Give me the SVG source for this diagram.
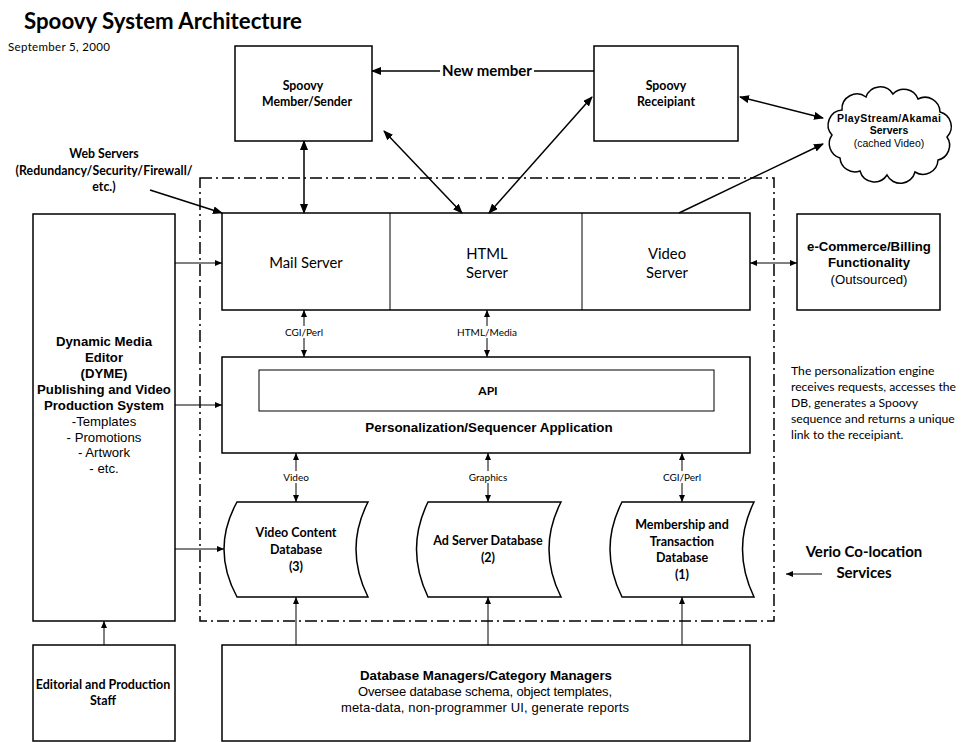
<svg xmlns="http://www.w3.org/2000/svg" width="970" height="742" viewBox="0 0 970 742">
<defs>
<marker id="ah" markerWidth="10" markerHeight="8" refX="9" refY="4" orient="auto-start-reverse" markerUnits="userSpaceOnUse"><path d="M0,0 L10,4 L0,8 Z" fill="#000"/></marker>
<marker id="as" markerWidth="7" markerHeight="6" refX="7" refY="3" orient="auto-start-reverse" markerUnits="userSpaceOnUse"><path d="M0,0 L7,3 L0,6 Z" fill="#000"/></marker>
</defs>
<style>
.box{fill:#fff;stroke:#000;stroke-width:1.5}
.thin{fill:none;stroke:#000;stroke-width:1}
.c{fill:none;stroke:#000;stroke-width:1.5}
.cs{fill:none;stroke:#000;stroke-width:1}
.cal{font-family:Lato,"Open Sans","Liberation Sans",sans-serif;fill:#000}
.ar{font-family:"Liberation Sans",Arial,sans-serif;fill:#000}
.b{font-weight:bold}
text{text-anchor:middle}
</style>
<rect width="970" height="742" fill="#fff"/>
<text class="cal b" x="24" y="29" font-size="22" textLength="278" lengthAdjust="spacingAndGlyphs" style="text-anchor:start">Spoovy System Architecture</text>
<text class="cal" x="8" y="51" font-size="11.5" textLength="102" style="text-anchor:start">September 5, 2000</text>

<rect x="200" y="178" width="574" height="443" fill="none" stroke="#000" stroke-width="1.5" stroke-dasharray="12 4 2 4"/>

<g id="member"><rect class="box" x="235" y="46" width="137" height="95"/>
<text class="cal b" x="303" y="90" font-size="12.3">Spoovy</text><text class="cal b" x="307" y="106" font-size="12.3" textLength="90">Member/Sender</text></g>
<g id="receipiant"><rect class="box" x="594" y="46" width="144" height="95"/>
<text class="cal b" x="666" y="90" font-size="12.3">Spoovy</text><text class="cal b" x="666" y="106" font-size="12.3" textLength="58">Receipiant</text></g>
<g id="cloud"><path class="box" d="M832,135 A15,15 0 0 1 842,110 A15,15 0 0 1 866,97 A15,15 0 0 1 893,94 A15,15 0 0 1 918,99 A15,15 0 0 1 940,112 A15,15 0 0 1 947,137 A15,15 0 0 1 938,160 A15,15 0 0 1 915,172 A15,15 0 0 1 887,175 A15,15 0 0 1 860,171 A15,15 0 0 1 840,158 A15,15 0 0 1 832,135 Z"/>
<text class="ar b" x="889" y="122" font-size="10.5" textLength="104">PlayStream/Akamai</text><text class="ar b" x="889" y="134" font-size="10.5">Servers</text><text class="ar" x="889" y="147" font-size="10.5">(cached Video)</text></g>
<g id="webservers"><text class="cal b" x="104" y="158" font-size="12.3">Web Servers</text><text class="cal b" x="104" y="175" font-size="12.3" textLength="177">(Redundancy/Security/Firewall/</text><text class="cal b" x="104" y="191" font-size="12.3">etc.)</text></g>

<g id="servers"><rect class="box" x="222" y="213" width="528" height="97"/>
<line class="thin" x1="390" y1="213" x2="390" y2="310"/><line class="thin" x1="582" y1="213" x2="582" y2="310"/>
<text class="cal" x="306" y="268" font-size="14.8">Mail Server</text>
<text class="cal" x="487" y="259" font-size="14.8">HTML</text><text class="cal" x="487" y="278" font-size="14.8">Server</text>
<text class="cal" x="667" y="259" font-size="14.8">Video</text><text class="cal" x="667" y="278" font-size="14.8">Server</text></g>

<g id="ecommerce"><rect class="box" x="797" y="214" width="143" height="96"/>
<text class="ar b" x="869" y="251" font-size="13.2">e-Commerce/Billing</text><text class="ar b" x="869" y="267" font-size="13.2">Functionality</text><text class="ar" x="869" y="284" font-size="13.2">(Outsourced)</text></g>

<g id="dyme"><rect class="box" x="33" y="214" width="142" height="407"/>
<text class="ar b" x="104" y="346" font-size="13.2">Dynamic Media</text><text class="ar b" x="104" y="362" font-size="13.2">Editor</text><text class="ar b" x="104" y="378" font-size="13.2">(DYME)</text><text class="ar b" x="104" y="394" font-size="13.2">Publishing and Video</text><text class="ar b" x="104" y="410" font-size="13.2">Production System</text>
<text class="ar" x="104" y="426" font-size="13.2">-Templates</text><text class="ar" x="104" y="442" font-size="13.2">- Promotions</text><text class="ar" x="104" y="457" font-size="13.2">- Artwork</text><text class="ar" x="104" y="473" font-size="13.2">- etc.</text></g>

<g id="personalization"><rect class="box" x="222" y="357" width="528" height="96"/>
<rect x="259" y="370" width="455" height="41" fill="#fff" stroke="#000" stroke-width="1"/>
<text class="cal b" x="488" y="395" font-size="12">API</text>
<text class="ar b" x="489" y="432" font-size="13.4">Personalization/Sequencer Application</text></g>

<g id="videodb"><path class="box" d="M237,502 L368,502 Q344,549 368,597 L237,597 Q211,549 237,502 Z"/>
<text class="cal b" x="296" y="537" font-size="12.5">Video Content</text><text class="cal b" x="296" y="554" font-size="12.5">Database</text><text class="cal b" x="296" y="571" font-size="12.5">(3)</text></g>
<g id="addb"><path class="box" d="M428,502 L561,502 Q537,549 561,597 L428,597 Q405,549 428,502 Z"/>
<text class="cal b" x="488" y="545" font-size="12.5">Ad Server Database</text><text class="cal b" x="488" y="562" font-size="12.5">(2)</text></g>
<g id="memberdb"><path class="box" d="M622,502 L754,502 Q731,549 754,597 L622,597 Q598,549 622,502 Z"/>
<text class="cal b" x="682" y="529" font-size="12.5">Membership and</text><text class="cal b" x="682" y="546" font-size="12.5">Transaction</text><text class="cal b" x="682" y="562" font-size="12.5">Database</text><text class="cal b" x="682" y="579" font-size="12.5">(1)</text></g>

<g id="dbmanagers"><rect class="box" x="222" y="645" width="528" height="96"/>
<text class="ar b" x="486" y="680" font-size="13.3">Database Managers/Category Managers</text>
<text class="ar" x="485" y="696" font-size="13" textLength="254">Oversee database schema, object templates,</text>
<text class="ar" x="485" y="712" font-size="13" textLength="288">meta-data, non-programmer UI, generate reports</text></g>

<g id="editorial"><rect class="box" x="33" y="645" width="142" height="96"/>
<text class="cal b" x="103" y="689" font-size="12.5">Editorial and Production</text><text class="cal b" x="103" y="705" font-size="12.5">Staff</text></g>

<g id="note"><text class="cal" font-size="12.2" style="text-anchor:start"><tspan x="791" y="375">The personalization engine</tspan><tspan x="791" y="391">receives requests, accesses the</tspan><tspan x="791" y="407">DB, generates a Spoovy</tspan><tspan x="791" y="423">sequence and returns a unique</tspan><tspan x="791" y="439">link to the receipiant.</tspan></text></g>

<g id="verio"><text class="cal b" x="864" y="557" font-size="15">Verio Co-location</text><text class="cal b" x="864" y="578" font-size="15">Services</text></g>

<g id="newmember"><text class="cal b" x="487" y="76" font-size="15">New member</text></g>

<g id="connectors">
<line class="c" x1="440" y1="71" x2="372" y2="71" marker-end="url(#ah)"/>
<line class="c" x1="534" y1="71" x2="594" y2="71"/>
<line class="c" x1="304" y1="141" x2="304" y2="213" marker-start="url(#ah)" marker-end="url(#ah)"/>
<line class="c" x1="384" y1="131" x2="462" y2="213" marker-start="url(#ah)" marker-end="url(#ah)"/>
<line class="c" x1="592" y1="97" x2="489" y2="213" marker-start="url(#ah)" marker-end="url(#ah)"/>
<line class="c" x1="740" y1="97" x2="823" y2="118" marker-start="url(#ah)" marker-end="url(#ah)"/>
<line class="c" x1="679" y1="213" x2="823" y2="144" marker-end="url(#ah)"/>
<line class="c" x1="150" y1="190" x2="222" y2="213" marker-end="url(#ah)"/>
<line class="cs" x1="750" y1="263" x2="797" y2="263" marker-start="url(#as)" marker-end="url(#as)"/>
<line class="cs" x1="175" y1="263" x2="222" y2="263" marker-end="url(#as)"/>
<line class="cs" x1="175" y1="405" x2="222" y2="405" marker-end="url(#as)"/>
<line class="cs" x1="175" y1="549" x2="224" y2="549" marker-end="url(#as)"/>
<line class="cs" x1="304" y1="310" x2="304" y2="357" marker-start="url(#as)" marker-end="url(#as)"/>
<line class="cs" x1="487" y1="310" x2="487" y2="357" marker-start="url(#as)" marker-end="url(#as)"/>
<line class="cs" x1="296" y1="453" x2="296" y2="502" marker-start="url(#as)" marker-end="url(#as)"/>
<line class="cs" x1="488" y1="453" x2="488" y2="502" marker-start="url(#as)" marker-end="url(#as)"/>
<line class="cs" x1="682" y1="453" x2="682" y2="502" marker-start="url(#as)" marker-end="url(#as)"/>
<line class="cs" x1="296" y1="645" x2="296" y2="597" marker-end="url(#as)"/>
<line class="cs" x1="488" y1="645" x2="488" y2="597" marker-end="url(#as)"/>
<line class="cs" x1="682" y1="645" x2="682" y2="597" marker-end="url(#as)"/>
<line class="cs" x1="104" y1="645" x2="104" y2="621" marker-end="url(#as)"/>
<line class="cs" x1="822" y1="574" x2="786" y2="574" marker-end="url(#as)"/>
<g class="cal" font-size="10">
<rect x="285" y="326" width="38" height="12" fill="#fff"/><text x="304" y="336">CGI/Perl</text>
<rect x="457" y="326" width="60" height="12" fill="#fff"/><text x="487" y="336">HTML/Media</text>
<rect x="280" y="471" width="32" height="12" fill="#fff"/><text x="296" y="481">Video</text>
<rect x="466" y="471" width="44" height="12" fill="#fff"/><text x="488" y="481">Graphics</text>
<rect x="663" y="471" width="38" height="12" fill="#fff"/><text x="682" y="481">CGI/Perl</text>
</g>
</g>
</svg>
